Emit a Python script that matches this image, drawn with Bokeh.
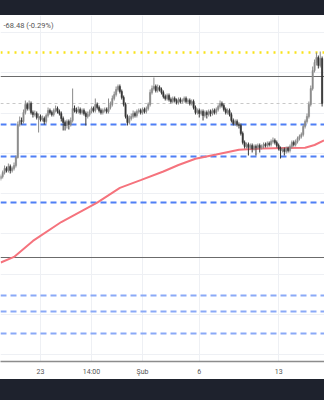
from bokeh.plotting import figure
from bokeh.models import Span, FixedTicker, Div, Label, ColumnDataSource, Range1d
from bokeh.layouts import column
from bokeh.embed import file_html
from bokeh.resources import INLINE

# ---- data (4h bars, index 0 = 23 Jan 00:00) ----
bars = list(range(-21, 150))
first_open = 21350
close = [
    21400, 21500, 21600, 21550, 21650, 21550, 21600, 21675, 21875, 22700,
    22800, 22775, 23000, 23200, 23100, 23225, 23000, 22950, 22975, 22875,
    22900, 22825, 22850, 22775, 22925, 23050, 23000, 22950, 23050, 23100,
    23025, 22975, 22850, 22750, 22675, 22775, 22700, 22800, 23100, 23050,
    23025, 23075, 23000, 23050, 22975, 22900, 22950, 23025, 23100, 23050,
    23200, 23125, 23050, 23000, 23050, 23075, 23025, 23125, 23200, 23350,
    23450, 23575, 23650, 23525, 23375, 23200, 22900, 22750, 22850, 22900,
    22975, 22925, 23025, 23050, 23000, 23075, 23025, 23100, 23200, 23500,
    23600, 23650, 23550, 23625, 23575, 23500, 23400, 23350, 23425, 23325,
    23275, 23350, 23300, 23250, 23325, 23275, 23300, 23350, 23275, 23300,
    23225, 23275, 23125, 23000, 23050, 22975, 23025, 22925, 23000, 22950,
    23025, 22975, 23050, 23000, 23075, 23150, 23225, 23175, 23075, 23000,
    23050, 22950, 22800, 22725, 22775, 22700, 22675, 22475, 22250, 22150,
    22200, 22125, 22175, 22100, 22150, 22125, 22175, 22125, 22150, 22200,
    22175, 22225, 22200, 22275, 22300, 22250, 22175, 22100, 22050, 22075,
    22025, 22100, 22050, 22150, 22250, 22200, 22275, 22350, 22400, 22450,
    22650, 22775, 22900, 23200, 23600, 24050, 24250, 24375, 24175, 24350,
    23225]
high = [
    21450, 21550, 21675, 21650, 21725, 21700, 21650, 21750, 21925, 22775,
    22900, 22875, 23075, 23300, 23250, 23300, 23275, 23050, 23050, 23025,
    22975, 22950, 22925, 22900, 22975, 23125, 23100, 23050, 23100, 23175,
    23150, 23075, 23025, 22900, 22800, 22825, 22825, 22875, 23600, 23175,
    23125, 23150, 23125, 23100, 23100, 23025, 23025, 23075, 23150, 23150,
    23350, 23250, 23175, 23100, 23100, 23125, 23125, 23350, 23275, 23425,
    23525, 23650, 23700, 23700, 23575, 23425, 23250, 22950, 22925, 22975,
    23050, 23025, 23075, 23100, 23100, 23125, 23125, 23150, 23250, 23575,
    23675, 23875, 23700, 23700, 23675, 23625, 23550, 23450, 23475, 23475,
    23375, 23400, 23400, 23350, 23375, 23375, 23350, 23400, 23400, 23350,
    23350, 23325, 23325, 23175, 23100, 23100, 23075, 23075, 23050, 23050,
    23075, 23075, 23100, 23100, 23125, 23200, 23300, 23275, 23225, 23125,
    23100, 23100, 23000, 22850, 22825, 22825, 22750, 22725, 22525, 22300,
    22250, 22250, 22225, 22225, 22200, 22200, 22225, 22225, 22200, 22250,
    22250, 22275, 22275, 22325, 22375, 22350, 22300, 22225, 22150, 22125,
    22125, 22150, 22150, 22200, 22300, 22300, 22325, 22400, 22450, 22500,
    22700, 22825, 22975, 23275, 23675, 24150, 24325, 24500, 24425, 24525,
    24400]
low = [
    21300, 21350, 21450, 21500, 21500, 21475, 21500, 21550, 21625, 21850,
    22650, 22700, 22725, 22950, 23050, 23050, 22950, 22875, 22900, 22825,
    22500, 22775, 22775, 22700, 22725, 22875, 22950, 22900, 22900, 23000,
    22975, 22925, 22775, 22550, 22550, 22600, 22575, 22650, 22750, 23000,
    22975, 22975, 22950, 22950, 22925, 22675, 22850, 22900, 22975, 23000,
    23000, 23075, 23000, 22950, 22950, 23000, 22975, 22975, 23075, 23150,
    23300, 23400, 23525, 23475, 23325, 23150, 22850, 22675, 22700, 22800,
    22850, 22875, 22875, 22975, 22950, 22950, 22975, 22975, 23050, 23150,
    23450, 23550, 23500, 23500, 23525, 23450, 23350, 23300, 23300, 23275,
    23225, 23225, 23250, 23200, 23200, 23225, 23225, 23250, 23225, 23225,
    23175, 23175, 23075, 22950, 22950, 22875, 22925, 22800, 22875, 22850,
    22900, 22900, 22925, 22950, 22950, 23025, 23100, 23125, 23025, 22950,
    22950, 22900, 22750, 22675, 22675, 22650, 22600, 22425, 22200, 22100,
    22100, 21925, 22075, 22000, 22050, 21925, 22075, 22000, 22075, 22100,
    22125, 22125, 22150, 22150, 22225, 22200, 22125, 22050, 21850, 22000,
    21925, 21975, 22000, 22000, 22100, 22150, 22150, 22225, 22300, 22350,
    22400, 22600, 22725, 22850, 23150, 23550, 24000, 24175, 24100, 24125,
    23150]
assert len(close) == len(bars) == len(high) == len(low)
open_ = [first_open] + close[:-1]

sma_bars = [-21, -14, -4, 11, 30, 42, 53, 65, 73, 82, 93, 105, 117, 130, 140, 145, 150]
sma_vals = [19250, 19390, 19790, 20262, 20745, 21115, 21310, 21525, 21688, 21843,
            21950, 22068, 22100, 22110, 22117, 22188, 22300]

yellow_level = 24500
black_levels = [23900, 19375]
gray_level = 23225
blue_levels_strong = [22700, 21900, 20750]
blue_levels_light = [18425, 18025, 17475]

tick_pos = [0, 27, 54, 84, 126]
tick_labels = ["23", "14:00", "Şub", "6", "13"]
grid_prices = [25000, 23993, 22985, 21978, 20970, 19963, 18955, 17948, 16940]
change_text = "-68.48 (-0.29%)"

# ---- figure ----
UP, DOWN = "#8a8a8a", "#363636"
p = figure(frame_width=324, frame_height=346, x_range=Range1d(-21.16, 150.26),
           y_range=Range1d(16775, 25425), output_backend="svg",
           toolbar_location=None, y_axis_location=None,
           min_border_left=0, min_border_right=0, min_border_top=0,
           min_border_bottom=18, margin=0)
p.outline_line_color = None
p.background_fill_color = "white"
p.border_fill_color = "white"

p.xaxis.ticker = FixedTicker(ticks=tick_pos)
p.xaxis.major_label_overrides = {t: l for t, l in zip(tick_pos, tick_labels)}
p.xaxis.major_tick_line_color = None
p.xaxis.major_tick_out = 0
p.xaxis.major_tick_in = 0
p.xaxis.minor_tick_line_color = None
p.xaxis.minor_tick_out = 0
p.xaxis.axis_line_color = "#8c8c8c"
p.xaxis.axis_line_width = 1.5
p.xaxis.major_label_text_font = "Roboto"
p.xaxis.major_label_text_font_size = "7px"
p.xaxis.major_label_text_color = "#555555"
p.xaxis.major_label_standoff = 6

p.xgrid.ticker = FixedTicker(ticks=tick_pos)
p.ygrid.ticker = FixedTicker(ticks=grid_prices)
p.xgrid.grid_line_color = "#eef0f4"
p.ygrid.grid_line_color = "#eef0f4"

for lv in blue_levels_strong:
    p.add_layout(Span(location=lv, dimension="width", line_color="#4f7ff5",
                      line_width=1.8, line_dash="6 4", level="underlay"))
for lv in blue_levels_light:
    p.add_layout(Span(location=lv, dimension="width", line_color="#8aa9f7",
                      line_width=1.8, line_dash="6 4", level="underlay"))
for lv in black_levels:
    p.add_layout(Span(location=lv, dimension="width", line_color="#6b6b6b",
                      line_width=1.2, level="underlay"))
p.add_layout(Span(location=gray_level, dimension="width", line_color="#c8c8c8",
                  line_width=1, line_dash="3 3", level="underlay"))
p.add_layout(Span(location=yellow_level, dimension="width", line_color="#f9e21b",
                  line_width=2.5, line_dash="2 5", level="underlay"))

p.line(sma_bars, sma_vals, line_color="#f5737d", line_width=2)

src = ColumnDataSource(dict(
    x=bars, o=open_, c=close, h=high, l=low,
    top=[max(a, b) for a, b in zip(open_, close)],
    bot=[min(a, b) for a, b in zip(open_, close)],
    col=[UP if c >= o else DOWN for o, c in zip(open_, close)],
))
p.segment(x0="x", y0="l", x1="x", y1="h", source=src, line_color="col", line_width=1)
p.vbar(x="x", width=0.7, top="top", bottom="bot", source=src,
       fill_color="col", line_color="col", line_width=0.5)

p.add_layout(Label(x=-19.6, y=25175, text=change_text, text_font="Roboto",
                   text_font_size="7.5px", text_color="#555555",
                   text_baseline="middle"))

top_band = Div(text="", width=324, height=15, margin=0,
               styles={"background-color": "#1e222d"})
bottom_band = Div(text="", width=324, height=21, margin=0,
                  styles={"background-color": "#1e222d"})
layout = column(top_band, p, bottom_band, spacing=0, margin=0)

open("out.html", "w").write(file_html(layout, INLINE))
